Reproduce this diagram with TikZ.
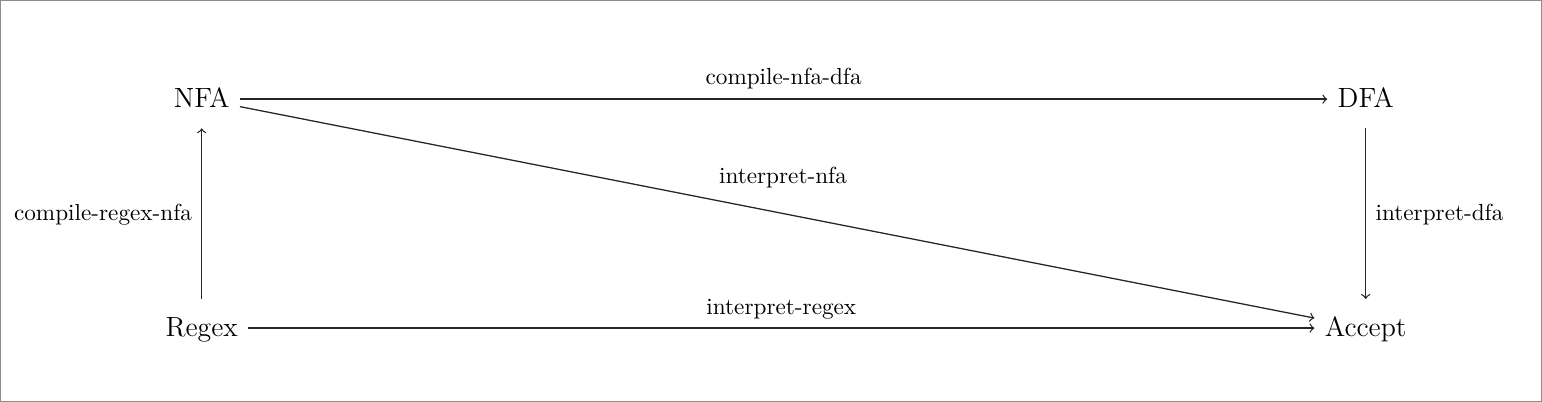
\documentclass[tikz,border=0pt]{standalone}
\begin{document}
\begin{tikzpicture}[x=0.431pt,y=0.431pt,
  obj/.style={font=\large, text height=12pt, text depth=4.8pt, inner xsep=4.3pt, inner ysep=4pt, anchor=base},
  lab/.style={font=\normalsize, inner sep=0pt},
  arr/.style={->, line width=0.55pt, draw=black!85}]
\useasboundingbox (0,0) rectangle (1542,402);
\draw[black!45, line width=0.5pt] (0.6,0.6) rectangle (1541.4,401.4);
\node[obj] (nfa) at (201.7,294.5) {NFA};
\node[obj] (dfa) at (1365.7,294.5) {DFA};
\node[obj] (regex) at (201.7,65.5) {Regex};
\node[obj] (accept) at (1365.7,65.5) {Accept};
\draw[arr] (nfa) -- (dfa) node[lab, midway, anchor=base, yshift=6.1pt] {compile-nfa-dfa};
\draw[arr] (nfa) -- (accept) node[lab, midway, anchor=base, xshift=2.5pt, yshift=12.3pt] {interpret-nfa};
\draw[arr] (regex) -- (accept) node[lab, midway, anchor=base, yshift=5.7pt] {interpret-regex};
\draw[arr] (regex) -- (nfa) node[lab, midway, anchor=base east, xshift=-3.9pt, yshift=-2.9pt] {compile-regex-nfa};
\draw[arr] (dfa) -- (accept) node[lab, midway, anchor=base west, xshift=4pt, yshift=-3.1pt] {interpret-dfa};
\end{tikzpicture}
\end{document}
